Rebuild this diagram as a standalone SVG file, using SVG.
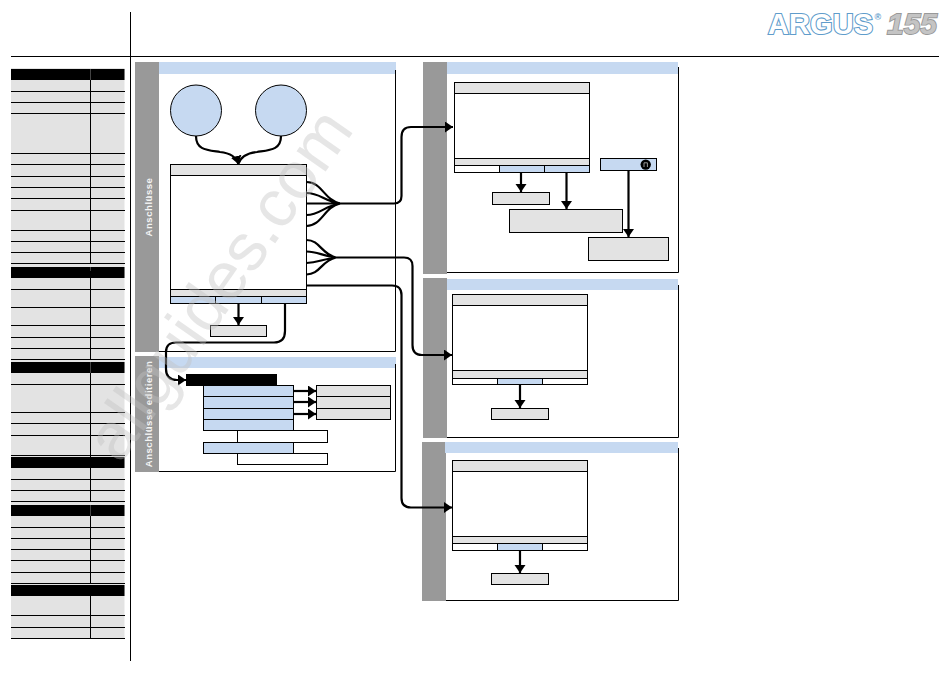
<svg xmlns="http://www.w3.org/2000/svg" width="950" height="673" viewBox="0 0 950 673">
<style>
.side{fill:#999}
.band{fill:#c6d9f1}
.ln{fill:none;stroke:#000;stroke-width:1}
.g{fill:#e3e3e3;stroke:#000;stroke-width:1}
.b{fill:#c6d9f1;stroke:#000;stroke-width:1}
.w{fill:#fff;stroke:#000;stroke-width:1}
.tg{fill:#e3e3e3}
.tl{stroke:#000;stroke-width:1;fill:none}
.c{fill:none;stroke:#000;stroke-width:2.2}
.lab{font-family:"Liberation Sans",Arial,sans-serif;font-weight:bold;font-size:9.5px;fill:#f4f4f4;letter-spacing:.55px;text-anchor:middle}
</style>
<defs>
<marker id="ah" markerUnits="userSpaceOnUse" markerWidth="12" markerHeight="12" refX="8" refY="5.500" orient="auto"><path d="M0 0L8 5.500L0 11z" fill="#000"/></marker>
</defs>
<rect width="950" height="673" fill="#fff"/>
<g id="frame" class="tl">
<path d="M130.500 12V661M11 56.500H939"/>
</g>
<g id="table">
<rect class="tg" x="11" y="68" width="113.500" height="571"/>
<g fill="#000">
<rect x="11" y="69" width="113.500" height="11"/>
<rect x="11" y="267" width="113.500" height="11"/>
<rect x="11" y="362" width="113.500" height="11"/>
<rect x="11" y="457" width="113.500" height="11"/>
<rect x="11" y="505" width="113.500" height="11"/>
<rect x="11" y="585" width="113.500" height="11"/>
</g>
<path d="M90.500 69V80M90.500 267V271M90.500 362V373M90.500 505V516" stroke="#444" stroke-width="1"/>
<path class="tl" d="M90.500 80V263M90.500 278V359M90.500 373V458M90.500 468V501M90.500 516V583M90.500 596V638M11 91.500H125M11 102.500H125M11 113.500H125M11 153.500H125M11 164.500H125M11 176.500H125M11 187.500H125M11 198.500H125M11 210.500H125M11 230.500H125M11 241.500H125M11 252.500H125M11 263.500H125M11 289.500H125M11 307.500H125M11 325.500H125M11 337.500H125M11 348.500H125M11 359.500H125M11 384.500H125M11 412.500H125M11 423.500H125M11 435.500H125M11 455.500H125M11 479.500H125M11 490.500H125M11 501.500H125M11 527.500H125M11 538.500H125M11 549.500H125M11 560.500H125M11 572.500H125M11 583.500H125M11 615.500H125M11 627.500H125M11 638.500H125"/>
</g>
<g id="panel-anschluesse">
<rect class="side" x="135" y="62" width="24" height="290"/>
<rect class="band" x="159" y="62" width="237" height="12"/>
<path class="ln" d="M395.500 70V351.500H159"/>
<text class="lab" transform="translate(151.500 207) rotate(-90)">Anschlüsse</text>
</g>
<g id="panel-editieren">
<rect class="side" x="135" y="356" width="24" height="116"/>
<rect class="band" x="159" y="357" width="237" height="11"/>
<path class="ln" d="M395.500 364V471.500H159"/>
<text class="lab" transform="translate(151.500 414) rotate(-90)">Anschlüsse editieren</text>
</g>
<g id="panel-3">
<rect class="side" x="423" y="62" width="24" height="212"/>
<rect class="band" x="447" y="62" width="231" height="12"/>
<path class="ln" d="M678.500 67V272.500H447"/>
</g>
<g id="panel-4">
<rect class="side" x="423" y="278" width="24" height="160"/>
<rect class="band" x="447" y="279" width="231" height="11"/>
<path class="ln" d="M678.500 285V437.500H447"/>
</g>
<g id="panel-5">
<rect class="side" x="422" y="442" width="24" height="159"/>
<rect class="band" x="445" y="442" width="233" height="11"/>
<path class="ln" d="M678.500 448V600.500H446"/>
</g>
<g id="circle-1"><circle class="b" cx="196" cy="110.500" r="25.500"/></g>
<g id="circle-2"><circle class="b" cx="281" cy="110.500" r="25.500"/></g>
<g id="screen-main">
<rect class="w" x="170.500" y="164.500" width="136" height="139"/>
<rect class="g" x="170.500" y="164.500" width="136" height="11"/>
<rect class="g" x="170.500" y="289.500" width="136" height="7"/>
<rect class="b" x="170.500" y="296.500" width="45" height="7"/>
<rect class="b" x="215.500" y="296.500" width="46" height="7"/>
<rect class="b" x="261.500" y="296.500" width="45" height="7"/>
</g>
<g id="box-main-sub"><rect class="g" x="210.500" y="325.500" width="56" height="11"/></g>
<g id="edit-title"><rect x="186" y="374" width="91" height="12" fill="#000"/></g>
<g id="edit-menu">
<rect class="b" x="203.500" y="385.500" width="90" height="11"/>
<rect class="b" x="203.500" y="396.500" width="90" height="12"/>
<rect class="b" x="203.500" y="408.500" width="90" height="11"/>
<rect class="b" x="203.500" y="419.500" width="90" height="11"/>
<rect class="w" x="237.500" y="430.500" width="90" height="12"/>
<rect class="b" x="203.500" y="442.500" width="90" height="11"/>
<rect class="w" x="237.500" y="453.500" width="90" height="11"/>
</g>
<g id="edit-sub">
<rect class="g" x="316.500" y="385.500" width="74" height="11"/>
<rect class="g" x="316.500" y="396.500" width="74" height="12"/>
<rect class="g" x="316.500" y="408.500" width="74" height="11"/>
</g>
<g id="screen-3">
<rect class="w" x="454.500" y="82.500" width="135" height="90"/>
<rect class="g" x="454.500" y="82.500" width="135" height="11"/>
<rect class="g" x="454.500" y="158.500" width="135" height="7"/>
<rect class="w" x="454.500" y="165.500" width="45" height="7"/>
<rect class="b" x="499.500" y="165.500" width="45" height="7"/>
<rect class="b" x="544.500" y="165.500" width="45" height="7"/>
</g>
<g id="button-3">
<rect class="b" x="600.500" y="158.500" width="56" height="12"/>
<circle cx="645.700" cy="164.600" r="5.200" fill="#000"/>
<path d="M644 167V162.800H647.400V167" fill="none" stroke="#bbb" stroke-width=".8"/>
</g>
<g id="box-3a"><rect class="g" x="492.500" y="192.500" width="57" height="12"/></g>
<g id="box-3b"><rect class="g" x="509.500" y="209.500" width="113" height="23"/></g>
<g id="box-3c"><rect class="g" x="588.500" y="237.500" width="80" height="23"/></g>
<g id="screen-4">
<rect class="w" x="452.500" y="294.500" width="135" height="90"/>
<rect class="g" x="452.500" y="294.500" width="135" height="11"/>
<rect class="g" x="452.500" y="370.500" width="135" height="8"/>
<rect class="b" x="497.500" y="378.500" width="45" height="6"/>
</g>
<g id="box-4"><rect class="g" x="491.500" y="408.500" width="57" height="11"/></g>
<g id="screen-5">
<rect class="w" x="452.500" y="460.500" width="135" height="90"/>
<rect class="g" x="452.500" y="460.500" width="135" height="11"/>
<rect class="g" x="452.500" y="536.500" width="135" height="7"/>
<rect class="b" x="497.500" y="543.500" width="45" height="7"/>
</g>
<g id="box-5"><rect class="g" x="491.500" y="573.500" width="57" height="11"/></g>
<g id="connectors">
<path class="c" d="M196 136C196 150 207 150 220 152C230 153 236 156 238.300 164" marker-end="url(#ah)"/>
<path class="c" d="M281 136C281 150 270 150 257 152C247 153 241 156 238.300 164"/>
<path class="c" d="M306.500 182C322 182 324 200 340 203.500M306.500 193C320 193 324 201 340 203.500M306.500 203.500H394Q401.500 203.500 401.500 196V137Q401.500 127 411 127H453" marker-end="url(#ah)"/>
<path class="c" d="M306.500 215C320 215 324 206 340 203.500M306.500 226C322 226 324 207 340 203.500"/>
<path class="c" d="M306.500 240C320 240 321 254 336 257.500M306.500 251.500C318 251.500 322 256 336 257.500M306.500 263C318 263 322 259 336 257.500M306.500 274.500C320 274.500 321 261 336 257.500M331 257.500H404Q412.500 257.500 412.500 266V345Q412.500 355 422 355H452" marker-end="url(#ah)"/>
<path class="c" d="M306.500 285.500H392Q401.500 285.500 401.500 295V498Q401.500 507.500 411 507.500H452" marker-end="url(#ah)"/>
<path class="c" d="M238.500 303.500V325" marker-end="url(#ah)"/>
<path class="c" d="M285 303.500V331Q285 342.500 274 342.500H176Q166 342.500 166 352V369Q166 380 177 380H186" marker-end="url(#ah)"/>
<path class="c" d="M293.500 391H316" marker-end="url(#ah)"/>
<path class="c" d="M293.500 402H316" marker-end="url(#ah)"/>
<path class="c" d="M293.500 414H316" marker-end="url(#ah)"/>
<path class="c" d="M521 172.500V192" marker-end="url(#ah)"/>
<path class="c" d="M566.500 172.500V209" marker-end="url(#ah)"/>
<path class="c" d="M628.500 170.500V237" marker-end="url(#ah)"/>
<path class="c" d="M520 384.500V408" marker-end="url(#ah)"/>
<path class="c" d="M520 550.500V573" marker-end="url(#ah)"/>
</g>
<g id="logo">
<text x="768" y="33.500" font-family="Liberation Sans,Arial,sans-serif" font-weight="bold" font-size="29" textLength="105" lengthAdjust="spacing" fill="#fff" stroke="#5f9ccb" stroke-width="2.200" paint-order="stroke">ARGUS</text>
<text x="874.500" y="20" font-family="Liberation Sans,Arial,sans-serif" font-weight="bold" font-size="9" fill="#5f9ccb">®</text>
<text x="887" y="33.500" font-family="Liberation Sans,Arial,sans-serif" font-weight="bold" font-style="italic" font-size="29" textLength="50" lengthAdjust="spacingAndGlyphs" fill="#c4c4c4" stroke="#999" stroke-width="1.800" paint-order="stroke">155</text>
</g>
<text id="watermark" transform="translate(120 465) rotate(-55)" font-family="Liberation Sans,Arial,sans-serif" font-size="67" fill="#c0c0c0" fill-opacity=".4">allguides.com</text>
</svg>
